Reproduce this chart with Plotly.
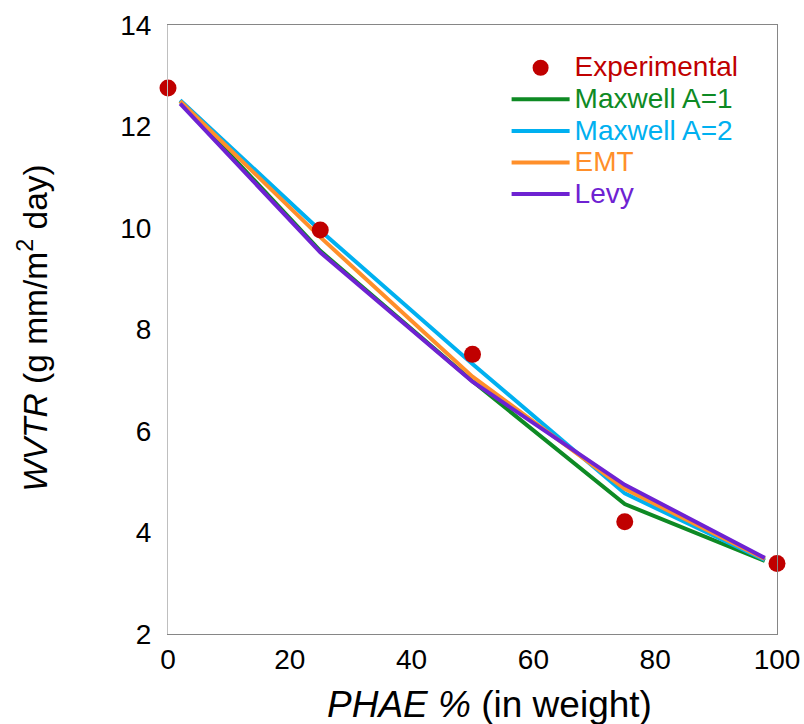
import plotly.graph_objects as go

# Measured water vapour transmission rate vs PHAE content
phae_exp = [0, 25, 50, 75, 100]
wvtr_exp = [12.76, 9.96, 7.51, 4.21, 3.39]

# Model predictions
phae_model = [2, 25, 50, 75, 98]
maxwell_a1 = [12.50, 9.55, 6.98, 4.56, 3.44]
maxwell_a2 = [12.52, 9.95, 7.32, 4.77, 3.46]
emt = [12.50, 9.82, 7.07, 4.86, 3.48]
levy = [12.45, 9.52, 6.97, 4.94, 3.50]

x_ticks = [0, 20, 40, 60, 80, 100]
y_ticks = [2, 4, 6, 8, 10, 12, 14]

FONT = "Liberation Sans, Arial, sans-serif"
RED, GREEN, BLUE, ORANGE, PURPLE = "#C00000", "#0E8A24", "#00B0F0", "#FF8F2A", "#6E22D2"


def label(text, color):
    return f"<span style='color:{color};font-size:28px'>{text}</span>"


fig = go.Figure()
models = [
    ("Maxwell A=1", maxwell_a1, GREEN, 2),
    ("Maxwell A=2", maxwell_a2, BLUE, 3),
    ("EMT", emt, ORANGE, 4),
    ("Levy", levy, PURPLE, 5),
]
for name, vals, color, rank in models:
    fig.add_trace(go.Scatter(
        x=phae_model, y=vals, mode="lines", name=label(name, color),
        line=dict(color=color, width=4), legendrank=rank,
    ))

fig.add_trace(go.Scatter(
    x=phae_exp, y=wvtr_exp, mode="markers", name=label("Experimental", RED),
    marker=dict(color=RED, size=17), legendrank=1, cliponaxis=False,
))

# invisible trace that carries the right-hand frame line
fig.add_trace(go.Scatter(x=[50], y=[8], yaxis="y2", mode="markers",
                         marker=dict(opacity=0), showlegend=False, hoverinfo="skip"))

fig.update_layout(
    width=804, height=724,
    margin=dict(l=168, r=27, t=25, b=90, autoexpand=False),
    paper_bgcolor="white", plot_bgcolor="white",
    font=dict(family=FONT, size=28, color="black"),
    showlegend=True,
    legend=dict(
        x=0.556, y=0.964, xanchor="left", yanchor="top",
        bgcolor="rgba(0,0,0,0)", borderwidth=0,
        font=dict(size=22), itemwidth=58, tracegroupgap=0,
    ),
    xaxis=dict(
        range=[0, 100], tickvals=x_ticks, showgrid=False, zeroline=False,
        showline=True, linecolor="#868686", linewidth=1, mirror=True,
        ticks="", ticklabelstandoff=0, automargin=False,
        tickfont=dict(size=28),
    ),
    yaxis=dict(
        range=[2, 14], tickvals=y_ticks, showgrid=False, zeroline=False,
        showline=True, linecolor="#BFBFBF", linewidth=1,
        ticks="", ticklabelstandoff=10, automargin=False,
        tickfont=dict(size=28),
    ),
    yaxis2=dict(
        range=[2, 14], overlaying="y", side="right", showgrid=False,
        zeroline=False, showline=True, linecolor="#868686", linewidth=1,
        showticklabels=False, ticks="", automargin=False,
    ),
    annotations=[
        dict(text="<i>PHAE %</i> (in weight)", xref="paper", yref="paper",
             x=0.528, y=-0.115, xanchor="center", yanchor="middle",
             showarrow=False, font=dict(size=37)),
        dict(text="<i>WVTR</i> (g mm/m<sup>2</sup> day)", xref="paper", yref="paper",
             x=-0.223, y=0.503, xanchor="center", yanchor="middle",
             textangle=-90, showarrow=False, font=dict(size=33.5)),
    ],
)

fig.write_html("out.html")
